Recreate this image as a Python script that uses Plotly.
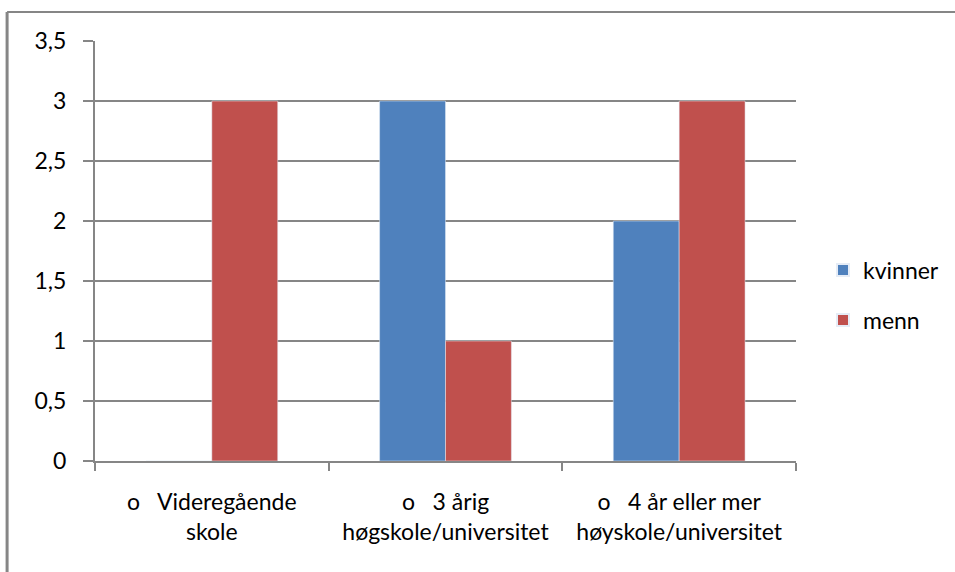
import plotly.graph_objects as go

categories = ["o\u00a0\u00a0\u00a0Videregående<br>skole",
              "o\u00a0\u00a0\u00a03 årig<br>høgskole/universitet",
              "o\u00a0\u00a0\u00a04 år eller mer<br>høyskole/universitet"]
kvinner = [0, 3, 2]
menn = [3, 1, 3]
y_ticks = [0, 0.5, 1, 1.5, 2, 2.5, 3, 3.5]

GRAY = "#868686"
FONT = "Lato, Calibri, Carlito, sans-serif"
FS = 23

fig = go.Figure()
fig.add_trace(go.Bar(x=categories, y=kvinner, name="kvinner", marker_color="#4F81BD",
                     legendgroup="k"))
fig.add_trace(go.Bar(x=categories, y=menn, name="menn", marker_color="#C0504D",
                     legendgroup="m"))

fig.update_layout(
    width=955, height=572,
    margin=dict(l=95, r=158, t=41, b=111),
    paper_bgcolor="white", plot_bgcolor="white",
    separators=", ",
    barmode="group", bargap=0.436, bargroupgap=0,
    font=dict(family=FONT, size=FS, color="#000000"),
    showlegend=True,
    legend=dict(x=1.037, y=0.395, xanchor="left", yanchor="middle",
                font=dict(size=FS), tracegroupgap=17, itemsizing="constant",
                bgcolor="rgba(0,0,0,0)"),
    xaxis=dict(type="category", showline=True, linecolor=GRAY, linewidth=2,
               ticks="outside", tickson="boundaries", ticklen=8, tickcolor=GRAY,
               tickwidth=2, showgrid=False, ticklabelstandoff=19,
               tickfont=dict(size=FS), range=[-0.5, 2.5]),
    yaxis=dict(range=[0, 3.5], tickvals=y_ticks, showline=True, linecolor=GRAY,
               linewidth=2, ticks="outside", ticklen=10, tickcolor=GRAY, tickwidth=2,
               showgrid=True, gridcolor=GRAY, gridwidth=2, zeroline=False,
               ticklabelstandoff=12, tickfont=dict(size=FS)),
    shapes=[
        dict(type="line", xref="paper", yref="paper", x0=-0.1254, x1=-0.1254,
             y0=-0.3, y1=1.069, line=dict(color=GRAY, width=3)),
        dict(type="line", xref="paper", yref="paper", x0=-0.1254, x1=1.3,
             y0=1.069, y1=1.069, line=dict(color=GRAY, width=2)),
    ],
)

fig.write_html("out.html", config={"displayModeBar": False})
with open("out.html", "r", encoding="utf-8") as f:
    html = f.read()
html = html.replace("<body>", '<body style="margin:0;padding:0;">', 1)
with open("out.html", "w", encoding="utf-8") as f:
    f.write(html)
